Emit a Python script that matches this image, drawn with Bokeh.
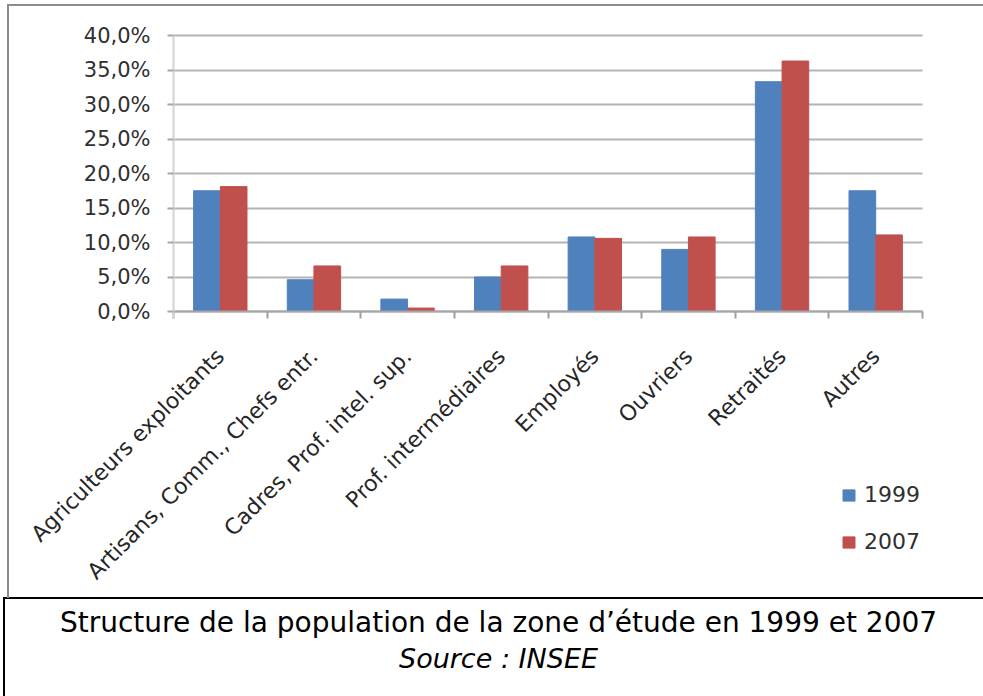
import math
from bokeh.plotting import figure
from bokeh.models import (Range1d, FixedTicker, Legend, LegendItem, Label, Grid,
                          ColumnDataSource)
from bokeh.embed import file_html
from bokeh.resources import INLINE

# ---- data ----
categories = ["Agriculteurs exploitants", "Artisans, Comm., Chefs entr.",
              "Cadres, Prof. intel. sup.", "Prof. intermédiaires", "Employés",
              "Ouvriers", "Retraités", "Autres"]
values_1999 = [17.5, 4.6, 1.8, 5.0, 10.8, 9.0, 33.3, 17.5]
values_2007 = [18.1, 6.6, 0.5, 6.6, 10.6, 10.8, 36.3, 11.1]
series_names = ["1999", "2007"]
y_ticks = [0, 5, 10, 15, 20, 25, 30, 35, 40]
y_tick_labels = ["0,0%", "5,0%", "10,0%", "15,0%", "20,0%", "25,0%", "30,0%", "35,0%", "40,0%"]
caption_title = "Structure de la population de la zone d\u2019étude en 1999 et 2007"
caption_source = "Source : INSEE"

# ---- styling / layout constants ----
BLUE = "#4f81bd"
RED = "#c0504d"
BAR_W = 0.285
FONT = "DejaVu Sans"
W, H = 983, 696
PLOT_L, PLOT_R = 173, 922      # pixel span of the category axis
PLOT_T, PLOT_B = 35, 311       # pixel positions of the top tick and of 0

n = len(categories)
SX = (PLOT_R - PLOT_L) / n
SY = (PLOT_B - PLOT_T) / y_ticks[-1]
def dx(px):
    return (px - PLOT_L) / SX
def dy(py):
    return (PLOT_B - py) / SY

centers = [i + 0.5 for i in range(n)]
bounds = [float(i) for i in range(n + 1)]

src1 = ColumnDataSource(dict(x=[c - BAR_W / 2 for c in centers], top=values_1999))
src2 = ColumnDataSource(dict(x=[c + BAR_W / 2 for c in centers], top=values_2007))

p = figure(width=W, height=H, output_backend="svg", toolbar_location=None,
           x_range=Range1d(dx(0), dx(W)), y_range=Range1d(dy(H), dy(0)),
           min_border=0)
p.outline_line_color = None
p.background_fill_color = None
p.border_fill_color = None

r1 = p.vbar(x="x", top="top", width=BAR_W, source=src1, fill_color=BLUE, line_color=BLUE)
r2 = p.vbar(x="x", top="top", width=BAR_W, source=src2, fill_color=RED, line_color=RED)

# x axis, drawn at y = 0
p.xaxis.fixed_location = 0
p.xaxis.bounds = (0, n)
p.xaxis.ticker = FixedTicker(ticks=centers, minor_ticks=bounds)
p.xaxis.major_label_overrides = {c: lab for c, lab in zip(centers, categories)}
p.xaxis.major_label_orientation = math.pi / 4
p.xaxis.major_tick_in = 0
p.xaxis.major_tick_out = 0
p.xaxis.minor_tick_in = 0
p.xaxis.minor_tick_out = 7
p.xaxis.minor_tick_line_color = "#a0a0a0"
p.xaxis.minor_tick_line_width = 2
p.xaxis.axis_line_color = "#a6a6a6"
p.xaxis.axis_line_width = 2
p.xaxis.major_label_standoff = 34
p.xaxis.major_label_text_font = FONT
p.xaxis.major_label_text_font_size = "22px"
p.xaxis.major_label_text_color = "#262626"
p.xgrid.visible = False

# y axis, drawn at x = 0
p.yaxis.fixed_location = 0
p.yaxis.ticker = FixedTicker(ticks=y_ticks)
p.yaxis.bounds = (-1, y_ticks[-1])
p.yaxis.major_label_overrides = {t: lab for t, lab in zip(y_ticks, y_tick_labels)}
p.yaxis.axis_line_color = "#d4d4d4"
p.yaxis.axis_line_width = 2
p.yaxis.major_tick_in = 0
p.yaxis.major_tick_out = 6
p.yaxis.major_tick_line_color = "#a6a6a6"
p.yaxis.major_tick_line_width = 2
p.yaxis.minor_tick_line_color = None
p.yaxis.major_label_standoff = 17
p.yaxis.major_label_text_font = FONT
p.yaxis.major_label_text_font_size = "21px"
p.yaxis.major_label_text_color = "#303030"

# horizontal grid lines only across the category span
if "cross_bounds" in Grid.properties():
    p.ygrid.cross_bounds = (0, n)
    p.ygrid.grid_line_color = "#b4b4b4"
    p.ygrid.grid_line_width = 2
else:
    p.ygrid.visible = False
    p.segment(x0=[0] * len(y_ticks), x1=[n] * len(y_ticks), y0=y_ticks, y1=y_ticks,
              line_color="#b4b4b4", line_width=2, level="underlay")

legend = Legend(items=[LegendItem(label=series_names[0], renderers=[r1]),
                       LegendItem(label=series_names[1], renderers=[r2])],
                location=(841, 142), orientation="vertical",
                glyph_width=15, glyph_height=14, label_text_font=FONT,
                label_text_font_size="22px", label_text_color="#303030",
                spacing=22, padding=0, margin=0, label_standoff=8,
                border_line_color=None, background_fill_alpha=0)
p.add_layout(legend, "center")

# caption
p.add_layout(Label(x=dx(498), y=dy(622), text=caption_title, text_align="center",
                   text_baseline="middle", text_font=FONT, text_font_size="28px",
                   text_color="black"))
p.add_layout(Label(x=dx(498), y=dy(658), text=caption_source, text_align="center",
                   text_baseline="middle", text_font=FONT, text_font_size="27px",
                   text_font_style="italic", text_color="black"))

# frame lines of the original picture (chart box in grey, caption box in black)
p.styles = {
    "background": (
        "linear-gradient(#8c8c8c,#8c8c8c) 7px 4px / 976px 2px no-repeat, "
        "linear-gradient(#8c8c8c,#8c8c8c) 7px 4px / 2px 594px no-repeat, "
        "linear-gradient(#000,#000) 3px 597px / 980px 2px no-repeat, "
        "linear-gradient(#000,#000) 3px 597px / 2px 99px no-repeat, white"
    )
}

open("out.html", "w").write(file_html(p, INLINE))
